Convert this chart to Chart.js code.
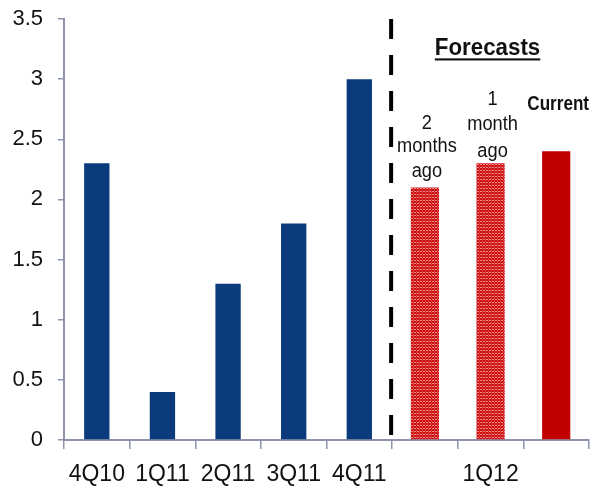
<!DOCTYPE html>
<html>
<head>
<meta charset="utf-8">
<script src="https://cdn.jsdelivr.net/npm/chart.js@4/dist/chart.umd.min.js"></script>
<style>
  html, body { margin: 0; padding: 0; background: #fff; }
  #wrap { width: 613px; height: 487px; }
</style>
</head>
<body>
<div id="wrap"><canvas id="c" width="613" height="487"></canvas></div>
<script>
// Quarterly values: actual quarters, then three forecasts for 1Q12
const categories = ['4Q10', '1Q11', '2Q11', '3Q11', '4Q11', '', '1Q12', ''];
const actualValues = [2.3, 0.4, 1.3, 1.8, 3.0, null, null, null];
const forecastValues = [null, null, null, null, null, 2.1, 2.3, 2.4];
const forecastNotes = [['2', 'months', 'ago'], ['1', 'month', 'ago'], ['Current']];
const yTicks = [0, 0.5, 1, 1.5, 2, 2.5, 3, 3.5];

const AXIS = '#8c93ab';
const NAVY = '#0b3b7c';
const RED = '#c00000';
const FONT = '"Liberation Sans", Arial, sans-serif';

// Fine checked fill used for the older forecasts
function checkPattern() {
  const p = document.createElement('canvas');
  p.width = 3; p.height = 3;
  const g = p.getContext('2d');
  g.fillStyle = '#cc0e0e';
  g.fillRect(0, 0, 3, 3);
  g.fillStyle = 'rgba(255,225,225,0.6)';
  g.fillRect(0, 2, 2, 1);
  g.fillStyle = 'rgba(255,170,170,0.3)';
  g.fillRect(2, 0, 1, 2);
  return g.createPattern(p, 'repeat');
}
const checked = checkPattern();

const overlay = {
  id: 'overlay',
  afterDatasetsDraw(chart) {
    const { ctx, chartArea, scales: { x, y } } = chart;
    ctx.save();
    // dashed divider between actuals and forecasts
    const xd = (x.getPixelForValue(4) + x.getPixelForValue(5)) / 2 - 1;
    ctx.strokeStyle = '#000';
    ctx.lineWidth = 4;
    ctx.setLineDash([20, 16]);
    ctx.beginPath();
    ctx.moveTo(xd, chartArea.top);
    ctx.lineTo(xd, chartArea.bottom - 2);
    ctx.stroke();
    ctx.setLineDash([]);

    // heading
    const xh = x.getPixelForValue(6) - 3;
    ctx.fillStyle = '#111';
    ctx.textAlign = 'center';
    ctx.textBaseline = 'middle';
    ctx.font = 'bold 23px ' + FONT;
    const yh = y.getPixelForValue(3.26);
    ctx.save();
    ctx.translate(xh, yh);
    ctx.scale(0.97, 1.05);
    ctx.fillText('Forecasts', 0, 0);
    const w = ctx.measureText('Forecasts').width;
    ctx.fillRect(-w / 2, 10, w, 2);
    ctx.restore();

    // forecast notes above each red bar
    const noteY = [[2.63, 2.44, 2.23], [2.83, 2.62, 2.40], [2.79]];
    forecastNotes.forEach((lines, i) => {
      const cx = x.getPixelForValue(5 + i) + 2;
      const bold = lines.length === 1;
      lines.forEach((t, k) => {
        ctx.save();
        ctx.translate(cx, y.getPixelForValue(noteY[i][k]));
        if (bold) {
          ctx.font = 'bold 19px ' + FONT;
          ctx.scale(0.9, 1.05);
        } else {
          ctx.font = '19px ' + FONT;
          ctx.scale(0.96, 1.05);
        }
        ctx.fillText(t, 0, 0);
        ctx.restore();
      });
    });
    ctx.restore();
  }
};

new Chart(document.getElementById('c'), {
  type: 'bar',
  data: {
    labels: categories,
    datasets: [
      {
        data: actualValues,
        backgroundColor: NAVY,
        grouped: false,
        barPercentage: 0.386,
        categoryPercentage: 1
      },
      {
        data: forecastValues,
        backgroundColor: [RED, RED, RED, RED, RED, checked, checked, RED],
        grouped: false,
        barPercentage: 0.43,
        categoryPercentage: 1
      }
    ]
  },
  options: {
    responsive: false,
    animation: false,
    devicePixelRatio: 1,
    layout: { padding: { left: 0, right: 24, top: 19, bottom: 0 } },
    plugins: { legend: { display: false }, tooltip: { enabled: false } },
    scales: {
      x: {
        offset: true,
        afterFit(scale) { scale.height = 47; },
        grid: {
          offset: true,
          drawOnChartArea: false,
          drawTicks: true,
          tickLength: 9,
          color: AXIS,
          lineWidth: 1.5
        },
        border: { color: AXIS, width: 2 },
        ticks: {
          autoSkip: false,
          maxRotation: 0,
          padding: 12,
          color: '#111',
          font: { family: FONT, size: 23 }
        }
      },
      y: {
        min: 0,
        max: 3.5,
        afterBuildTicks(axis) { axis.ticks = yTicks.map(v => ({ value: v })); },
        afterFit(scale) {
          scale.width = 64;
          scale.paddingTop = 0;
          scale.paddingBottom = 0;
        },
        grid: {
          drawOnChartArea: false,
          drawTicks: true,
          tickLength: 6,
          color: AXIS,
          lineWidth: 1.5
        },
        border: { color: AXIS, width: 2 },
        ticks: {
          padding: 15,
          color: '#111',
          callback: v => String(v),
          font: { family: FONT, size: 22 }
        }
      }
    }
  },
  plugins: [overlay]
});
</script>
</body>
</html>
